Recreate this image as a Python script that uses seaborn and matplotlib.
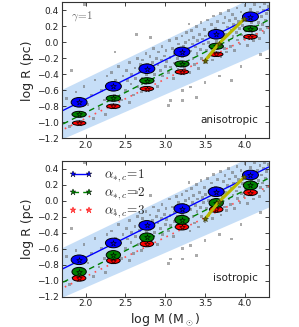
import matplotlib
matplotlib.use("Agg")
import matplotlib.pyplot as plt
import seaborn as sns
from matplotlib.patches import Ellipse
from matplotlib.lines import Line2D

sns.set_style("ticks")
plt.rcParams['font.family'] = ['DejaVu Sans']
plt.rcParams['mathtext.fontset'] = 'cm'

# cluster masses (log M) and radii for alpha_{*,c} = 1, 2, 3
log_m = [1.92, 2.35, 2.77, 3.21, 3.64, 4.07]
aniso_r1 = [-0.75, -0.55, -0.33, -0.12, 0.10, 0.32]
aniso_r2 = [-0.90, -0.70, -0.48, -0.27, -0.05, 0.17]
aniso_r3 = [-1.01, -0.80, -0.58, -0.37, -0.15, 0.07]
iso_r1 = [-0.74, -0.53, -0.31, -0.10, 0.11, 0.32]
iso_r2 = [-0.89, -0.68, -0.46, -0.24, -0.03, 0.19]
iso_r3 = [-0.97, -0.75, -0.54, -0.33, -0.11, 0.10]

# fitted relations (end points)
fit_x1 = [1.70, 4.30]
fit_y1 = [-0.86, 0.42]
fit_x2 = [1.72, 4.30]
fit_y2 = [-1.02, 0.28]
fit_x3 = [1.74, 4.30]
fit_y3 = [-1.08, 0.18]

# observed band
band_x = [1.70, 4.30]
band_hi = [-0.59, 0.66]
band_lo = [-1.21, -0.08]

# track
track_x = [3.50, 3.67, 3.99]
track_y = [-0.23, -0.02, 0.29]

# observed clusters (grey cloud)
obs = [
    (1.76, -0.70), (1.82, -0.35), (1.88, -0.62), (1.93, -0.88), (1.98, -0.55), (2.03, -0.78),
    (2.08, -0.66), (2.12, -0.47), (2.17, -0.83), (2.20, -0.60), (2.24, -0.72), (2.27, -0.42),
    (1.80, -1.05), (2.10, -0.95), (2.25, -0.90), (1.99, 0.47),
    (2.31, -0.58), (2.33, -0.38), (2.36, -0.66), (2.38, -0.47), (2.41, -0.30), (2.43, -0.55),
    (2.45, -0.72), (2.47, -0.42), (2.50, -0.60), (2.51, -0.35), (2.53, -0.48), (2.55, -0.25),
    (2.57, -0.52), (2.58, -0.40), (2.60, -0.66), (2.62, -0.32), (2.63, -0.45), (2.65, -0.20),
    (2.66, -0.55), (2.68, -0.37), (2.69, -0.28), (2.64, 0.10), (2.37, -0.12), (2.55, -0.75),
    (2.71, -0.45), (2.72, -0.22), (2.73, -0.33), (2.75, -0.52), (2.76, -0.14), (2.77, -0.40),
    (2.78, -0.28), (2.80, -0.36), (2.81, -0.18), (2.82, -0.47), (2.84, -0.25), (2.85, -0.08),
    (2.86, -0.33), (2.87, -0.40), (2.89, -0.20), (2.90, -0.55), (2.91, -0.28), (2.92, -0.12),
    (2.94, -0.35), (2.95, -0.22), (2.96, -0.05), (2.97, -0.42), (2.99, -0.17), (3.00, -0.30),
    (3.01, -0.10), (3.02, -0.24), (3.04, -0.38), (3.05, 0.02), (3.06, -0.19), (3.07, -0.31),
    (3.09, -0.08), (3.10, -0.45), (3.11, -0.15), (3.12, -0.26), (3.14, 0.05), (3.15, -0.20),
    (3.16, -0.34), (3.17, -0.02), (3.19, -0.12), (3.20, -0.28), (2.82, 0.06), (2.70, -0.62),
    (3.21, 0.08), (3.22, -0.18), (3.23, -0.05), (3.24, -0.32), (3.25, 0.00), (3.26, -0.14),
    (3.27, 0.12), (3.28, -0.24), (3.29, -0.08), (3.30, 0.03), (3.31, -0.38), (3.32, -0.11),
    (3.33, 0.15), (3.34, -0.02), (3.35, -0.20), (3.36, 0.06), (3.37, -0.28), (3.38, -0.06),
    (3.39, 0.20), (3.40, -0.14), (3.41, 0.02), (3.42, -0.33), (3.43, 0.10), (3.44, -0.09),
    (3.45, 0.25), (3.46, -0.20), (3.47, 0.04), (3.48, -0.02), (3.49, 0.16), (3.50, -0.26),
    (3.51, 0.08), (3.52, -0.10), (3.53, 0.28), (3.54, 0.00), (3.55, -0.16), (3.56, 0.13),
    (3.57, -0.05), (3.58, 0.22), (3.59, -0.22), (3.60, 0.06), (3.61, 0.33), (3.62, -0.08),
    (3.63, 0.17), (3.64, 0.01), (3.65, -0.14), (3.66, 0.26), (3.67, 0.09), (3.68, -0.03),
    (3.69, 0.36), (3.70, -0.18), (3.71, 0.14), (3.72, 0.04), (3.73, 0.24), (3.74, -0.08),
    (3.75, 0.31), (3.76, 0.10), (3.77, -0.12), (3.78, 0.19), (3.79, 0.40), (3.80, 0.02),
    (3.81, 0.27), (3.82, -0.05), (3.83, 0.15), (3.84, 0.35), (3.85, 0.07), (3.86, 0.22),
    (3.87, -0.10), (3.88, 0.30), (3.89, 0.12), (3.90, 0.43), (3.91, 0.03), (3.92, 0.26),
    (3.93, 0.17), (3.94, -0.02), (3.95, 0.38), (3.96, 0.09), (3.97, 0.21), (3.98, 0.32),
    (3.99, 0.05), (4.00, 0.46), (4.01, 0.14), (4.02, 0.27), (4.03, -0.04), (4.04, 0.36),
    (4.05, 0.19), (4.06, 0.08), (4.07, 0.41), (4.08, 0.24), (4.09, 0.12), (4.10, 0.33),
    (4.11, 0.02), (4.12, 0.47), (4.13, 0.20), (4.14, 0.29), (4.15, 0.10), (4.16, 0.38),
    (4.17, 0.25), (4.18, 0.05), (4.19, 0.44), (4.20, 0.16), (4.21, 0.32), (4.22, 0.22),
    (4.23, 0.40), (4.24, 0.12), (4.25, 0.48), (4.26, 0.28), (4.27, 0.36), (4.28, 0.18),
    (4.29, 0.45), (3.30, 0.23),
    (3.39, -0.69), (3.32, -0.56), (3.07, -0.73), (3.04, -0.79), (3.22, -0.60), (3.68, -0.42),
    (3.83, -0.48), (3.22, -0.73), (3.50, -0.50), (3.95, -0.30), (4.20, -0.15),
]
obs_x = [p[0] for p in obs]
obs_y = [p[1] for p in obs]

fig = plt.figure(figsize=(2.99, 3.27), dpi=100)
ax_top = fig.add_axes([0.206, 0.577, 0.693, 0.416])
ax_bot = fig.add_axes([0.206, 0.093, 0.693, 0.416])

panels = [
    (ax_top, aniso_r1, aniso_r2, aniso_r3, 0.075, 0.055, "anisotropic"),
    (ax_bot, iso_r1, iso_r2, iso_r3, 0.11, 0.075, "isotropic"),
]

for ax, r1, r2, r3, h2, h3, label in panels:
    ax.fill_between(band_x, band_lo, band_hi, color="#c6def7", lw=0, zorder=0)
    sns.scatterplot(x=obs_x, y=obs_y, ax=ax, color="0.4", s=4, marker="s",
                    alpha=0.55, edgecolor="none", zorder=1)
    sns.lineplot(x=fit_x1, y=fit_y1, ax=ax, color="blue", lw=1.0, zorder=2)
    sns.lineplot(x=fit_x2, y=fit_y2, ax=ax, color="green", lw=1.0, zorder=2)
    ax.lines[-1].set_dashes([4, 3])
    sns.lineplot(x=fit_x3, y=fit_y3, ax=ax, color="#ff5050", lw=1.2, zorder=2)
    ax.lines[-1].set_dashes([1, 3])
    for ys, col, w, h in [(r3, "red", 0.17, h3), (r2, "green", 0.18, h2), (r1, "blue", 0.20, 0.12)]:
        for x, y in zip(log_m, ys):
            ax.add_patch(Ellipse((x, y), w, h, facecolor=col, edgecolor="black",
                                 lw=0.7, zorder=3))
        sns.scatterplot(x=log_m, y=ys, ax=ax, marker="*", s=18, color=col,
                        edgecolor="black", linewidth=0.4, zorder=4)
    ax.plot(track_x, track_y, color="#b9b900", lw=2.2, marker="*", ms=4,
            mfc="#6b6b00", mec="#333300", mew=0.4, zorder=5)

    ax.set_xlim(1.7, 4.3)
    ax.set_ylim(-1.2, 0.5)
    ax.set_xticks([2.0, 2.5, 3.0, 3.5, 4.0])
    ax.set_yticks([-1.2, -1.0, -0.8, -0.6, -0.4, -0.2, 0.0, 0.2, 0.4])
    ax.set_yticklabels(["\u22121.2", "\u22121.0", "\u22120.8", "\u22120.6", "\u22120.4",
                        "\u22120.2", "0.0", "0.2", "0.4"])
    ax.tick_params(direction="in", top=True, right=True, labelsize=6.5, length=3,
                   width=0.6, pad=2, colors="#222222")
    for s in ax.spines.values():
        s.set_linewidth(0.8)
        s.set_color("#333333")
    ax.set_ylabel("log R (pc)", fontsize=9, labelpad=2)
    ax.text(0.947, 0.135, label, transform=ax.transAxes, ha="right", va="center",
            fontsize=7.5, color="#222222")

ax_top.text(0.045, 0.90, r"$\gamma\!=\!1$", transform=ax_top.transAxes, fontsize=8,
            color="0.4", ha="left", va="center")
ax_bot.set_xlabel(r"log M (M$_\odot$)", fontsize=9, labelpad=2)

handles = [
    Line2D([0], [0], color="blue", lw=1.0, marker="*", ms=5, mec="black", mew=0.3),
    Line2D([0], [0], color="green", lw=1.0, ls=(0, (4, 3)), marker="*", ms=5, mec="black", mew=0.3),
    Line2D([0], [0], color="#ff5050", lw=1.2, ls=(0, (1, 3)), marker="*", ms=5, mec="red", mew=0.3),
]
labels = [r"$\alpha_{*,c}\!=\!1$", r"$\alpha_{*,c}\!=\!2$", r"$\alpha_{*,c}\!=\!3$"]
ax_bot.legend(handles, labels, loc="upper left", frameon=False, numpoints=2,
              fontsize=9.5, handlelength=1.8, handletextpad=0.9, labelspacing=0.1,
              borderaxespad=0.25, borderpad=0.3)

fig.savefig("out.png", dpi=100)
